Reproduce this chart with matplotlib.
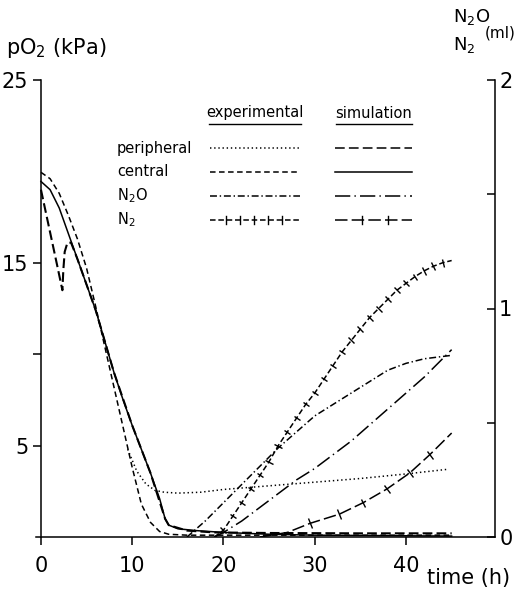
import numpy as np
import matplotlib.pyplot as plt
from matplotlib.lines import Line2D
from matplotlib.markers import MarkerStyle
from matplotlib.transforms import Affine2D

plt.rcParams['font.family'] = ['DejaVu Sans']
plt.rcParams['mathtext.default'] = 'regular'
plt.rcParams['lines.scale_dashes'] = False

# pO2 curves (kPa), left axis
t_cen_exp = [0, 1, 2, 3, 4, 5, 6, 7, 8, 9, 10, 11, 12, 13, 14, 16, 20, 25, 30, 35, 40, 45]
p_cen_exp = [19.95, 19.6, 18.8, 17.6, 16.3, 14.7, 12.6, 10.4, 8.2, 6.0, 3.8, 1.8, 0.8, 0.3,
             0.15, 0.1, 0.1, 0.1, 0.1, 0.1, 0.1, 0.1]

t_cen_sim = [0, 1, 2, 3, 4, 5, 6, 7, 8, 9, 10, 11, 12, 13, 13.6, 14, 15, 17, 20, 25, 30, 45]
p_cen_sim = [19.45, 19.0, 18.0, 16.6, 15.2, 13.8, 12.4, 10.7, 9.0, 7.5, 6.1, 4.8, 3.5, 2.1,
             1.0, 0.65, 0.45, 0.35, 0.25, 0.15, 0.1, 0.05]

t_per_exp = [9.5, 10.5, 11.5, 12.5, 13.5, 15, 17.5, 20, 25, 30, 35, 40, 44.5]
p_per_exp = [4.8, 3.6, 2.9, 2.55, 2.45, 2.4, 2.45, 2.6, 2.8, 3.0, 3.2, 3.45, 3.7]

t_per_sim = [0, 0.6, 1.2, 1.8, 2.35, 2.45, 2.6, 2.9, 3.3, 4, 5, 6, 8, 10, 12, 13.6, 14, 16, 19, 25, 35, 45]
p_per_sim = [19.0, 17.6, 16.2, 14.8, 13.5, 14.6, 15.6, 16.1, 16.1, 15.2, 13.8, 12.4, 9.0, 6.1,
             3.5, 1.0, 0.65, 0.35, 0.25, 0.22, 0.2, 0.2]

# N2O / N2 curves (ml), right axis
t_n2o_exp = [16, 18, 20, 22, 24, 26, 28, 30, 32, 34, 36, 38, 40, 42, 44, 45]
v_n2o_exp = [0, 0.07, 0.15, 0.23, 0.31, 0.39, 0.46, 0.53, 0.58, 0.63, 0.68, 0.73, 0.76, 0.78, 0.79, 0.795]

t_n2o_sim = [19, 20, 22, 24, 26, 28, 30, 32, 34, 36, 38, 40, 42, 44, 45]
v_n2o_sim = [0, 0.02, 0.07, 0.13, 0.19, 0.25, 0.30, 0.36, 0.42, 0.49, 0.56, 0.63, 0.70, 0.78, 0.82]

t_n2_exp = [19, 20, 21, 22, 23, 24, 25, 26, 27, 28, 29, 30, 31, 32, 33, 34, 35, 36, 37, 38,
            39, 40, 41, 42, 43, 44, 45]
v_n2_exp = [0, 0.03, 0.09, 0.15, 0.21, 0.27, 0.33, 0.40, 0.46, 0.52, 0.58, 0.63, 0.69, 0.75,
            0.81, 0.86, 0.91, 0.96, 1.00, 1.04, 1.08, 1.11, 1.14, 1.165, 1.185, 1.20, 1.21]

t_n2_sim = [24, 27, 29.5, 32.7, 35.3, 37.9, 40.4, 42.6, 45]
v_n2_sim = [0, 0.02, 0.06, 0.10, 0.15, 0.21, 0.28, 0.36, 0.455]

# line styles
ls_per_exp = (0, (1, 2))
ls_cen_exp = (0, (4, 2.5))
ls_n2o_exp = (0, (5, 2, 1, 2))
ls_n2_exp = (0, (4, 2))
ls_per_sim = (0, (7, 3))
ls_cen_sim = '-'
ls_n2o_sim = (0, (11, 3, 1, 3))
ls_n2_sim = (0, (9, 3))
lw = 1.1

W, H = 519, 596
fig = plt.figure(figsize=(W / 100, H / 100), dpi=100)
ax = fig.add_axes([36.4 / W, 59 / H, (495 - 36.4) / W, 457 / H])
ax2 = ax.twinx()

ax.set_xlim(-0.5, 49.75)
ax.set_ylim(0, 25)
ax2.set_ylim(0, 2)

ax.spines['left'].set_position(('data', 0))
for s in ['top', 'right']:
    ax.spines[s].set_visible(False)
for s in ['top', 'left', 'bottom']:
    ax2.spines[s].set_visible(False)
for a in (ax, ax2):
    for s in a.spines.values():
        s.set_linewidth(1.1)

ax.set_xticks([0, 10, 20, 30, 40])
ax.set_yticks([5, 10, 15, 25])
ax.set_yticklabels(['5', '', '15', '25'])
ax.tick_params(axis='both', direction='out', length=6, width=1.1, labelsize=15, pad=3)
ax.tick_params(axis='x', pad=8)
ax2.set_yticks([0, 0.5, 1, 1.5, 2])
ax2.set_yticklabels(['0', '', '1', '', '2'])
ax2.tick_params(axis='y', direction='in', length=6, width=1.1, labelsize=15, pad=3)

ax.plot(t_cen_exp, p_cen_exp, color='black', lw=lw, linestyle=ls_cen_exp)
ax.plot(t_per_exp, p_per_exp, color='black', lw=lw, linestyle=ls_per_exp)
ax.plot(t_cen_sim, p_cen_sim, color='black', lw=lw, linestyle=ls_cen_sim)
ax.plot(t_per_sim, p_per_sim, color='black', lw=1.5, linestyle=ls_per_sim)

ax2.plot(t_n2o_exp, v_n2o_exp, color='black', lw=lw, linestyle=ls_n2o_exp)
ax2.plot(t_n2o_sim, v_n2o_sim, color='black', lw=lw, linestyle=ls_n2o_sim)
ax2.plot(t_n2_exp, v_n2_exp, color='black', lw=lw, linestyle=ls_n2_exp)
ax2.plot(t_n2_sim, v_n2_sim, color='black', lw=lw, linestyle=ls_n2_sim)


def cross_ticks(a, t, v, idx, size):
    pts = a.transData.transform(np.column_stack([t, v]))
    for i in idx:
        j0, j1 = max(i - 1, 0), min(i + 1, len(t) - 1)
        dx, dy = pts[j1] - pts[j0]
        ang = np.degrees(np.arctan2(dy, dx))
        m = MarkerStyle('|', transform=Affine2D().rotate_deg(ang))
        a.plot([t[i]], [v[i]], marker=m, color='black', markersize=size,
               markeredgewidth=1.0, linestyle='none')


cross_ticks(ax2, t_n2_exp, v_n2_exp, range(1, len(t_n2_exp) - 1), 6)
cross_ticks(ax2, t_n2_sim, v_n2_sim, range(2, len(t_n2_sim) - 1), 7)


# legend table (figure pixel layout)
def fx(px):
    return px / W


def fy(py):
    return 1 - py / H


fs_leg = 10.5
fig.text(fx(255), fy(113), 'experimental', fontsize=fs_leg, ha='center', va='center')
fig.text(fx(374), fy(113), 'simulation', fontsize=fs_leg, ha='center', va='center')
fig.add_artist(Line2D([fx(209), fx(301)], [fy(124), fy(124)], color='black', lw=1.0))
fig.add_artist(Line2D([fx(336), fx(412)], [fy(124), fy(124)], color='black', lw=1.0))

rows = ['peripheral', 'central', 'N$_2$O', 'N$_2$']
row_y = [148, 172, 196, 220]
exp_styles = [ls_per_exp, ls_cen_exp, ls_n2o_exp, ls_n2_exp]
sim_styles = [ls_per_sim, ls_cen_sim, ls_n2o_sim, ls_n2_sim]
for name, y, le, lsim in zip(rows, row_y, exp_styles, sim_styles):
    fig.text(fx(117), fy(y), name, fontsize=fs_leg, ha='left', va='center')
    fig.add_artist(Line2D([fx(210), fx(300)], [fy(y), fy(y)], color='black', lw=lw, linestyle=le))
    fig.add_artist(Line2D([fx(335), fx(412)], [fy(y), fy(y)], color='black', lw=lw, linestyle=lsim))
for px in [226, 240, 254, 268, 282]:
    fig.add_artist(Line2D([fx(px), fx(px)], [fy(216), fy(224)], color='black', lw=1.0))
for px in [362, 388]:
    fig.add_artist(Line2D([fx(px), fx(px)], [fy(216), fy(224)], color='black', lw=1.0))

# axis titles
fig.text(fx(6), fy(48), 'pO$_2$ (kPa)', fontsize=15, ha='left', va='center')
fig.text(fx(453), fy(17), 'N$_2$O', fontsize=13, ha='left', va='center')
fig.text(fx(453), fy(45), 'N$_2$', fontsize=13, ha='left', va='center')
fig.text(fx(516), fy(33), '(ml)', fontsize=11, ha='right', va='center')
fig.text(fx(510), fy(578), 'time (h)', fontsize=15, ha='right', va='center')

fig.savefig('out.png', dpi=100, facecolor='white')
